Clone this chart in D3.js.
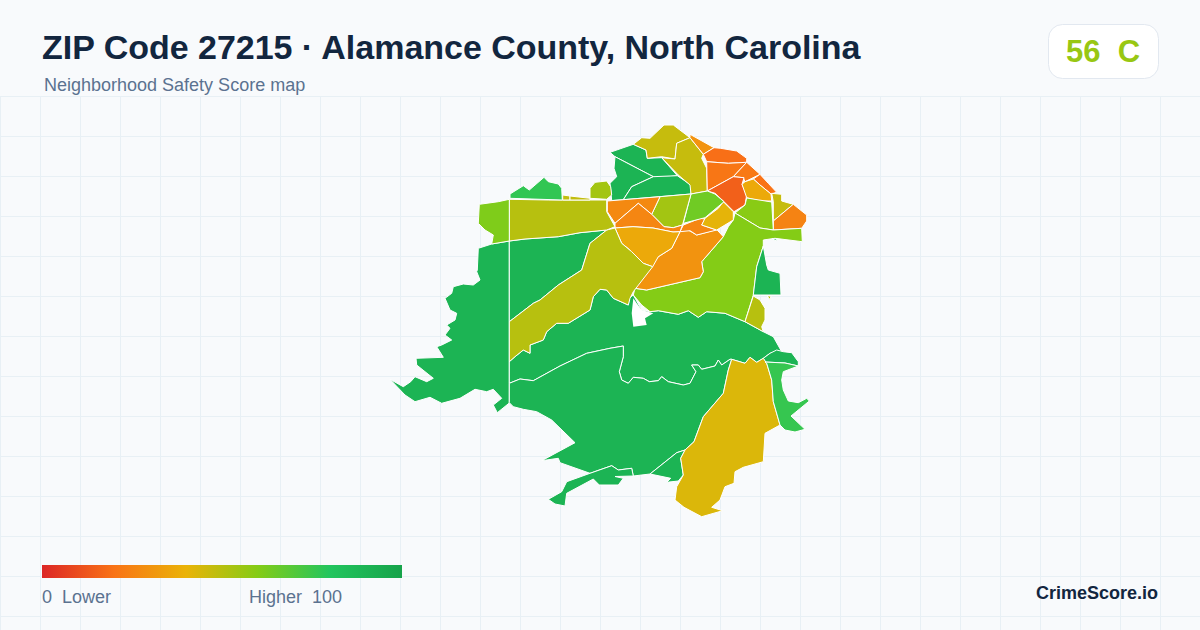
<!DOCTYPE html>
<html><head><meta charset="utf-8">
<script src="https://cdn.jsdelivr.net/npm/d3@7"></script>
<style>html,body{margin:0;padding:0;background:#f8fafc}svg{display:block}text{font-family:"Liberation Sans",Arial,sans-serif}</style>
</head><body><svg id="c" width="1200" height="630"></svg>
<script>
const titleText = "ZIP Code 27215 · Alamance County, North Carolina";
const subtitleText = "Neighborhood Safety Score map";
const badgeScore = "56", badgeGrade = "C";
const legendLabelsLeft = "0  Lower", legendLabelsRight = "Higher  100", brand = "CrimeScore.io";
const scoreStops = [0, 20, 40, 60, 80, 100];
const stopColors = ["#dc2626", "#f97316", "#eab308", "#84cc16", "#22c55e", "#16a34a"];

// Neighbourhood scores, in drawing order
const zoneScores = [90,90,90,90,90,90,90,90,90,90, 43,76, 47,47,30,19,21,22,15,20,37,47,25,59,60,30,26,41,64,54,27,26,37,50,50,61,77,48,48,54,50,90,90,50,null];

// Neighbourhood outlines, in map units, same order as zoneScores
const zoneRings = [
[[509.3,241],[491.7,244],[478.3,248.3],[477.3,270],[476.7,271.7],[480,280],[473.3,285],[463.3,284],[453.3,286.7],[451.7,293.3],[445,298.3],[450,310],[456.7,313.3],[455,320],[446.7,325],[450,328.3],[445,335],[451.7,340],[441.7,345],[436.7,346.7],[443.3,357.3],[416,358.3],[416.7,365],[433.3,378.3],[426.7,381.7],[415,376.7],[410.7,381.7],[403.3,386.7],[390,379.3],[405,395],[415,401.7],[430,397.3],[441.7,403.3],[460,398.3],[475,389.3],[486.7,391.7],[493.3,389.3],[501.7,398.3],[493.3,405],[497.3,412.7],[509.3,403]],
[[509.3,241],[525,239],[558.3,236.7],[580,232.7],[606.7,230],[590,243.3],[581.7,270],[558.3,285],[540,300],[533.3,303.3],[509.3,321.7]],
[[509.3,361.7],[515,356.7],[523.3,350],[530,353.3],[530,345],[543.3,340],[546.7,331.7],[556.7,323.3],[568.3,323.3],[590,310],[593.3,296.7],[600,289.3],[606.7,290],[613.3,298.3],[628.3,305],[629.3,298],[633.3,295],[641.7,310],[650,311.7],[658.3,310.7],[678.3,314.3],[688.3,310.7],[698.3,317.3],[706.7,311.7],[725,313.3],[745,321.7],[763.3,331.7],[773.3,336.7],[781.7,351.7],[770,353.3],[763.3,358.3],[756.7,362.3],[750,357.3],[745,363.3],[731.7,359.3],[730,359.3],[721.7,365],[718.3,360],[715,366],[701.7,369.3],[698.3,365],[691.7,365],[696,371.7],[690,383.3],[683.3,385],[668.3,381.7],[661.7,376.7],[658.3,380.7],[649.3,381.7],[643.3,378.3],[633.3,377.3],[628.3,383.3],[621.7,380],[619.3,371.7],[623.3,356.7],[623.3,346],[610,348.3],[586.7,353.3],[560,366],[533.3,380.7],[520,379],[509.3,383.3]],
[[509.3,383.3],[520,379],[533.3,380.7],[560,366],[586.7,353.3],[610,348.3],[623.3,346],[623.3,356.7],[619.3,371.7],[621.7,380],[628.3,383.3],[633.3,377.3],[643.3,378.3],[649.3,381.7],[658.3,380.7],[661.7,376.7],[668.3,381.7],[683.3,385],[690,383.3],[696,371.7],[691.7,365],[698.3,365],[701.7,369.3],[715,366],[718.3,360],[721.7,365],[730,359.3],[731.7,359.3],[728.3,370],[723.3,393.3],[703.3,416.7],[694,441.7],[685,450],[676.7,452.7],[650,474],[633.3,476],[631.7,468.3],[618.3,470],[611.7,465.7],[590,473.3],[560,462.7],[558.3,458.3],[541.7,460.7],[575,442.7],[551.7,420],[536.7,411.7],[523.3,409.3],[513.3,406.7],[509.3,402.7]],
[[590,473.3],[611.7,465.7],[618.3,470],[631.7,468.3],[633.3,476],[615,476.5],[623.3,478.3],[618.3,485],[599.3,485],[593.3,479],[566.7,493.3],[565,506],[555,504],[548.3,499.3],[561.7,491.7],[566.7,481.7]],
[[650,474],[676.7,452.7],[685,450],[680.7,458.3],[683.3,475],[678.3,481],[666.7,482.3],[670.7,478.3]],
[[763.3,358.3],[770,353.3],[776.7,350],[783.3,351.7],[791.7,352.7],[798.3,361.7],[798.3,366],[785,363],[765,362]],
[[615,156.7],[610,152.3],[633.3,144.3],[646,150],[647.3,158.3],[661.7,157.7],[677.3,175.7],[656.7,178.3],[653.3,176.7]],
[[615,156.7],[653.3,176.7],[631.7,186.7],[623.3,199.7],[611.7,200.5],[610,183.3],[616.7,176.7],[614,168.3]],
[[653.3,176.7],[677.3,175.7],[691,185],[691,194],[623.3,199.7],[631.7,186.7]],
[[731.7,359.3],[745,363.3],[750,357.3],[756.7,362.3],[763.3,358.3],[766.7,363.3],[771.7,380],[773.3,401.7],[780,425],[765,433.3],[763.3,461.7],[743.3,467.3],[735,471.7],[734,483.3],[725,486.7],[720,500],[711.7,507.3],[722.7,510.7],[701.7,516.7],[684,507.3],[675,500],[676.7,486.7],[683.3,475],[680.7,458.3],[685,450],[694,441.7],[703.3,416.7],[723.3,393.3],[728.3,370]],
[[765,362],[785,363],[798.3,366],[783.3,371.7],[781.7,380],[783.3,390],[788.3,401],[798.3,402.7],[806.7,398.3],[809.3,401],[791,416],[805,429.3],[795,432],[785,430],[780,425],[773.3,401.7],[771.7,380],[766.7,363.3]],
[[633.3,144.3],[641.7,137.7],[650,138.3],[664,125],[673.3,125],[690,137.7],[676.7,143.3],[675,159],[661.7,156.7],[647.3,158.3],[646,150]],
[[690,137.7],[703.3,154.3],[701.7,158.3],[706.7,168.3],[707.3,191],[691,194],[690,185],[678.3,175],[661.7,157.7],[675,159],[676.7,143.3]],
[[690,134.3],[714,147.7],[703.3,154.3],[690,137.7]],
[[703.3,154.3],[714,147.7],[720.7,148.3],[736.7,151],[746.7,158.3],[746.7,162.3],[728.3,163.3],[706.7,161.7]],
[[706.7,161.7],[728.3,163.3],[746.7,162.3],[733.3,176.7],[707.3,191]],
[[746.7,162.3],[760,174.3],[745,181.7],[743.3,177.7],[733.3,176.7]],
[[733.3,176.7],[744,177.7],[742,184.3],[746.7,195],[745,205],[734,211.7],[723.3,201],[715,193.3],[707.3,191]],
[[760,174.3],[768.3,183.3],[776.7,192.3],[771,194],[760,185],[753.3,179]],
[[745,181.7],[753.3,179],[760,185],[771,194],[771.7,201],[760,201],[746.7,197.7],[742,184.3]],
[[771.7,193.3],[781.7,194.3],[781.7,201],[793.3,204.3],[773.3,221],[773.3,201.7]],
[[793.3,204.3],[806.7,215],[806.7,221],[801.7,228.3],[773.3,230],[773.3,221]],
[[746.7,198],[771.7,202],[773.3,230],[760,228],[735,213],[745,205]],
[[735,213],[760,228],[773.3,230],[801.7,228.3],[802.3,241.7],[775,238.3],[763.3,240],[763.3,246],[756.7,266.7],[753.3,295],[745,321.7],[725,313.3],[706.7,311.7],[698.3,317.3],[688.3,310.7],[678.3,314.3],[658.3,310.7],[650,311.7],[641.7,305],[633.3,295],[635,288.3],[646.7,290],[700,277.7],[703.3,271.7],[701.7,261.7],[723.3,236.7],[728.3,226.7],[733.3,220]],
[[646.7,290],[635,288.3],[658.3,256.7],[671.7,248.3],[681.7,228.3],[690,231],[696.7,235],[716.7,229.5],[723.3,236.7],[701.7,261.7],[703.3,271.7],[700,277.7]],
[[683.3,225],[700,218.3],[705,219],[701.7,225],[716.7,230],[696.7,235],[690,230.7],[680,231.7]],
[[723.3,201.7],[733.3,211.7],[733.3,220],[716.7,230],[701.7,225],[705,218.3],[718.3,208.3]],
[[691,194],[707.3,191],[715,194],[724,201.7],[705,217.7],[683.3,223.3]],
[[660,196.7],[691,194],[682.5,225],[673.3,227.7],[664,226.7],[651.7,214.3]],
[[607.3,201],[660,196.7],[651.7,214.3],[638.3,203.3],[615,223.3],[607.3,211.7]],
[[615,223.3],[638.3,203.3],[651.7,214.3],[664,226.7],[673.3,227.7],[682.5,225],[680,231.7],[673,232],[653,228],[633,226.7],[615,228]],
[[615,228],[633,226.7],[653,228],[673,232],[680,231.7],[671.7,248.3],[658.3,256.7],[652.7,266.7],[643.3,263.3],[631.7,253.3],[630,250],[621.7,243.3]],
[[606.7,230],[615,228],[621.7,243.3],[631.7,251.7],[643.3,263.3],[652.7,266.7],[633.3,291.7],[630,298.3],[628.3,305],[613.3,298.3],[606.7,290],[600,289.3],[593.3,296.7],[590,310],[568.3,323.3],[556.7,323.3],[546.7,331.7],[543.3,340],[530,345],[530,353.3],[523.3,350],[515,356.7],[509.3,361.7],[509.3,321.7],[533.3,303.3],[540,300],[558.3,285],[581.7,270],[590,243.3]],
[[509.3,199.3],[548.3,200],[606.7,200],[606.7,211.7],[615,226.7],[606.7,230],[580,232.7],[558.3,236.7],[525,239],[509.3,241]],
[[479.3,204.3],[498.3,201.7],[509.3,199.3],[509.3,241],[491.7,244],[493.3,235],[485,230],[478.3,223.3]],
[[510,198.3],[510,194],[523.3,185.7],[529.3,190],[544,177.3],[548.3,181.7],[558.3,184],[561.7,188.3],[562.3,200]],
[[562.7,195],[570,196],[570,200],[562.7,200]],
[[570,196],[590,198.3],[590,200],[570,200]],
[[590,198.3],[590,188.3],[595,182.3],[606.7,181],[610.7,186.7],[611.7,195],[606.7,199.3]],
[[753.3,296],[760,300],[765,308.3],[765,320],[761.7,326.7],[763.3,331.7],[745,321.7]],
[[763.3,246],[766.7,265],[768.3,270],[780,273.3],[781,295],[753.3,295],[756.7,266.7]],
[[772,238.7],[777,239],[776,240.8]],
[[767,296],[771,296],[770,299.5]],
[[633.3,298.3],[636.7,303.3],[641.7,310],[653.3,313.3],[645,318.3],[646.7,325],[633.3,326.7],[631.7,313.3]]
];

const svg = d3.select("#c");
svg.append("rect").attr("width",1200).attr("height",630).attr("fill","#f8fafc");

// grid
const gridX = d3.scaleLinear().domain([0,30]).range([0.5,1200.5]);
const gridY = d3.scaleLinear().domain([0,14]).range([96.5,656.5]);
const grid = svg.append("g").attr("stroke","#e8f0f5").attr("stroke-width",1);
d3.range(0,31).forEach(i=>grid.append("line").attr("x1",gridX(i)).attr("x2",gridX(i)).attr("y1",96).attr("y2",630));
d3.range(0,14).forEach(i=>grid.append("line").attr("y1",gridY(i)).attr("y2",gridY(i)).attr("x1",0).attr("x2",1200));

// map
const color = d3.scaleLinear().domain(scoreStops).range(stopColors).interpolate(d3.interpolateRgb);
const path = d3.geoPath(d3.geoIdentity());
const features = zoneRings.map((r,i)=>({type:"Feature",properties:{score:zoneScores[i]},geometry:{type:"Polygon",coordinates:[[...r,r[0]]]}}));
svg.append("g").selectAll("path").data(features).join("path")
  .attr("d",path)
  .attr("fill",d=>d.properties.score==null?"#ffffff":color(d.properties.score))
  .attr("stroke",d=>d.properties.score==null?"none":"#ffffff")
  .attr("stroke-width",1)
  .attr("stroke-linejoin","round");

// header
svg.append("text").attr("x",42).attr("y",59).attr("font-size",34).attr("font-weight",700).attr("letter-spacing",-0.02).attr("fill","#12263f").text(titleText);
svg.append("text").attr("x",44).attr("y",91).attr("font-size",18).attr("fill","#5b7290").text(subtitleText);

// badge
svg.append("rect").attr("x",1048.5).attr("y",24.5).attr("width",110).attr("height",54).attr("rx",14)
  .attr("fill","#ffffff").attr("stroke","#e2e8f0");
svg.append("text").attr("x",1103).attr("y",62).attr("text-anchor","middle").attr("font-size",31).attr("font-weight",700)
  .attr("fill",color(+badgeScore)).style("white-space","pre").text(badgeScore+"  "+badgeGrade);

// legend
const defs = svg.append("defs");
const lg = defs.append("linearGradient").attr("id","lg");
const legendX = d3.scaleLinear().domain([0,100]).range([42,402]);
scoreStops.forEach((s,i)=>lg.append("stop").attr("offset",s+"%").attr("stop-color",stopColors[i]));
svg.append("rect").attr("x",legendX(0)).attr("y",565).attr("width",legendX(100)-legendX(0)).attr("height",13).attr("fill","url(#lg)");
svg.append("text").attr("x",42).attr("y",603).attr("font-size",18).attr("fill","#5b7290").style("white-space","pre").text(legendLabelsLeft);
svg.append("text").attr("x",342).attr("y",603).attr("text-anchor","end").attr("font-size",18).attr("fill","#5b7290").style("white-space","pre").text(legendLabelsRight);
svg.append("text").attr("x",1158).attr("y",599).attr("text-anchor","end").attr("font-size",18).attr("font-weight",700).attr("fill","#12263f").text(brand);
</script></body></html>
